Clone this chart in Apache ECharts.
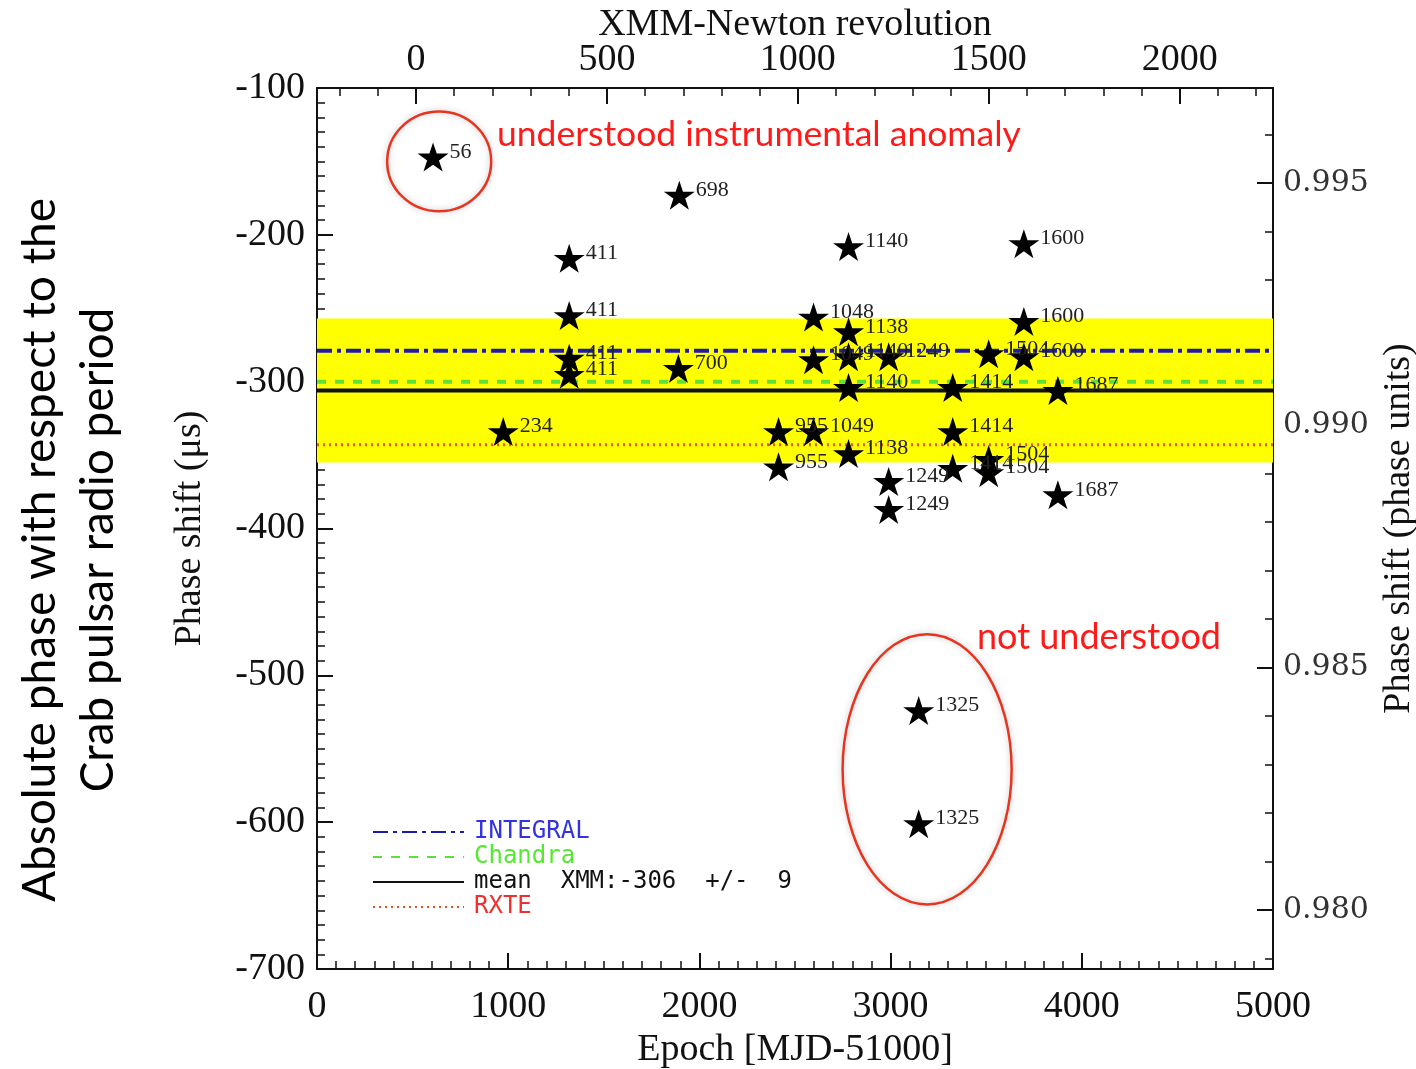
<!DOCTYPE html>
<html lang="en">
<head>
  <meta charset="UTF-8">
  <title>crab phase</title>
  <style>
    * { padding: 0; margin: 0; }
    #charts { width: 1416px; height: 1069px; background: #fff; }
  </style>
</head>
<body>
  <div id="charts"></div>
</body>
<script src="https://cdn.jsdelivr.net/npm/echarts@6/dist/echarts.min.js"></script>
<script type="text/javascript">
  // XMM points: epoch (MJD-51000), phase shift (us), revolution label
  var epoch = [607, 1895, 1319, 1319, 1319, 1319, 1890, 974, 2414, 2414, 2597, 2597, 2597,
    2780, 2780, 2780, 2780, 2780, 2990, 2990, 2990, 3147, 3147, 3325, 3325, 3325,
    3513, 3513, 3513, 3697, 3697, 3697, 3875, 3875]
  var shift = [-147, -173, -216, -255, -284, -295, -291, -334, -334, -358, -256, -285, -334,
    -208, -266, -283, -304, -349, -283, -368, -387, -524, -601, -304, -334, -359,
    -281, -353, -362, -206, -259, -283, -306, -377]
  var revolution = [56, 698, 411, 411, 411, 411, 700, 234, 955, 955, 1048, 1049, 1049,
    1140, 1138, 1140, 1140, 1138, 1249, 1249, 1249, 1325, 1325, 1414, 1414, 1414,
    1504, 1504, 1504, 1600, 1600, 1600, 1687, 1687]

  // reference levels (us)
  var levelNames = ['INTEGRAL', 'Chandra', 'mean  XMM:-306  +/-  9', 'RXTE']
  var levelValues = [-279, -300, -306, -343]
  var xmmBand = [-257, -355]

  // axis ranges and ticks
  var epochRange = [0, 5000]
  var shiftRange = [-700, -100]
  var revRange = [-259, 2244]
  var revTicks = [0, 500, 1000, 1500, 2000]
  var phaseRange = [0.97878, 0.99696]
  var phaseTicks = [0.980, 0.985, 0.990, 0.995]

  // annotation ellipses (data units)
  var ringX = [639, 3191]
  var ringY = [-150, -564]
  var ringRx = [272, 442]
  var ringRy = [34, 92]

  var revMinor = []
  for (var r = -200; r <= 2200; r += 100) if (r % 500 !== 0) revMinor.push(r)
  var phaseMinor = []
  for (var k = 979; k <= 996; k++) if (k % 5 !== 0) phaseMinor.push(k / 1000)

  var serif = 'Liberation Serif'
  var ink = '#111'
  var star = 'path://M50,0 L61.23,34.55 L97.55,34.55 L68.16,55.9 L79.39,90.45 L50,69.1 L20.61,90.45 L31.84,55.9 L2.45,34.55 L38.77,34.55 Z'

  var levelStyles = [
    { color: '#1c1ca8', width: 4, type: [15, 5, 4, 5] },
    { color: '#5ee03a', width: 4, type: [9, 9] },
    { color: '#111111', width: 4, type: 'solid' },
    { color: '#e8541c', width: 3, type: [2, 4] }
  ]
  var legendColors = ['#3232e0', '#55e830', '#111111', '#ee3030']

  var myChart = echarts.init(document.getElementById('charts'))

  function plain(v) { return String(v) }

  function axisBase() {
    return {
      type: 'value',
      splitLine: { show: false },
      axisLine: { show: true, onZero: false, lineStyle: { color: ink, width: 2 } },
      axisTick: { inside: true, length: 16, lineStyle: { color: ink, width: 2 } },
      nameTextStyle: { fontFamily: serif, fontSize: 38, color: ink },
      axisLabel: { fontFamily: serif, fontSize: 38, color: ink, formatter: plain }
    }
  }

  function setOption() {
    var points = epoch.map(function (x, i) { return [x, shift[i]] })

    var xBottom = axisBase()
    Object.assign(xBottom, {
      position: 'bottom', min: epochRange[0], max: epochRange[1], interval: 1000,
      name: 'Epoch [MJD-51000]', nameLocation: 'middle', nameGap: 62,
      minorTick: { show: true, splitNumber: 10, length: 8, lineStyle: { color: ink, width: 1.5 } }
    })
    xBottom.axisLabel.margin = 19

    var xTop = axisBase()
    Object.assign(xTop, {
      position: 'top', min: revRange[0], max: revRange[1],
      name: 'XMM-Newton revolution', nameLocation: 'middle', nameGap: 44, nameMoveOverlap: false
    })
    xTop.axisTick.customValues = revTicks
    xTop.axisLabel.customValues = revTicks
    xTop.axisLabel.margin = 9

    var xTopMinor = axisBase()
    Object.assign(xTopMinor, { position: 'top', min: revRange[0], max: revRange[1] })
    xTopMinor.axisLine.show = false
    xTopMinor.axisTick = { inside: true, length: 8, customValues: revMinor, lineStyle: { color: ink, width: 1.5 } }
    xTopMinor.axisLabel = { show: false }

    var yLeft = axisBase()
    Object.assign(yLeft, {
      position: 'left', min: shiftRange[0], max: shiftRange[1], interval: 100,
      name: 'Phase shift (μs)', nameLocation: 'middle', nameRotate: 90, nameGap: 108,
      minorTick: { show: true, splitNumber: 10, length: 8, lineStyle: { color: ink, width: 1.5 } }
    })
    yLeft.axisLabel.margin = 12

    var yRight = axisBase()
    Object.assign(yRight, {
      position: 'right', min: phaseRange[0], max: phaseRange[1],
      name: 'Phase shift (phase units)', nameLocation: 'middle', nameRotate: 90, nameGap: 104
    })
    yRight.axisTick.customValues = phaseTicks
    yRight.axisLabel = {
      customValues: phaseTicks, margin: 10, fontFamily: 'DejaVu Serif', fontSize: 30, color: '#333',
      formatter: function (v) { return v.toFixed(3) }
    }

    var yRightMinor = axisBase()
    Object.assign(yRightMinor, { position: 'right', min: phaseRange[0], max: phaseRange[1] })
    yRightMinor.axisLine.show = false
    yRightMinor.axisTick = { inside: true, length: 8, customValues: phaseMinor, lineStyle: { color: ink, width: 1.5 } }
    yRightMinor.axisLabel = { show: false }

    var series = [{
      name: 'band',
      type: 'line',
      data: [],
      silent: true,
      markArea: {
        silent: true,
        itemStyle: { color: '#ffff00' },
        data: [[{ yAxis: xmmBand[0] }, { yAxis: xmmBand[1] }]]
      }
    }]
    levelNames.forEach(function (name, i) {
      series.push({
        name: name,
        type: 'line',
        symbol: 'none',
        silent: true,
        z: 3,
        lineStyle: levelStyles[i],
        itemStyle: { color: levelStyles[i].color },
        data: [[epochRange[0], levelValues[i]], [epochRange[1], levelValues[i]]]
      })
    })
    series.push({
      name: 'XMM',
      type: 'scatter',
      symbol: star,
      symbolSize: [31, 29],
      z: 5,
      itemStyle: { color: '#000', opacity: 1 },
      label: {
        show: true,
        position: 'right',
        distance: 1,
        offset: [0, -5],
        fontFamily: serif,
        fontSize: 22,
        color: '#222',
        formatter: function (p) { return revolution[p.dataIndex] }
      },
      data: points
    })
    series.push({
      name: 'rings',
      type: 'custom',
      silent: true,
      clip: false,
      z: 6,
      renderItem: function (params, api) {
        var c = api.coord([api.value(0), api.value(1)])
        var s = api.size([api.value(2), api.value(3)])
        return {
          type: 'ellipse',
          shape: { cx: c[0], cy: c[1], rx: s[0], ry: s[1] },
          style: { fill: 'none', stroke: '#e8341e', lineWidth: 2.5, shadowBlur: 6, shadowColor: 'rgba(0,0,0,0.25)' }
        }
      },
      data: ringX.map(function (x, i) { return [x, ringY[i], ringRx[i], ringRy[i]] })
    })

    var option = {
      backgroundColor: '#fff',
      animation: false,
      grid: { left: 317, right: 143, top: 88, bottom: 100, show: false, containLabel: false, outerBoundsMode: 'none' },
      xAxis: [xBottom, xTop, xTopMinor],
      yAxis: [yLeft, yRight, yRightMinor],
      legend: {
        orient: 'vertical',
        left: 367,
        top: 815,
        itemWidth: 91,
        itemHeight: 12,
        itemGap: 1,
        selectedMode: false,
        lineStyle: { width: 2 },
        itemStyle: { color: 'rgba(0,0,0,0)', borderColor: 'rgba(0,0,0,0)', borderWidth: 0 },
        textStyle: { fontFamily: 'DejaVu Sans Mono', fontSize: 24, lineHeight: 23, padding: [0, 0, 0, 5] },
        data: levelNames.map(function (n, i) { return { name: n, textStyle: { color: legendColors[i] } } })
      },
      graphic: [
        {
          type: 'text', x: 69, y: 550, rotation: Math.PI / 2,
          style: {
            text: 'Absolute phase with respect to the\nCrab pulsar radio period',
            fontFamily: 'Lato', fontSize: 46, lineHeight: 58, fill: '#000',
            align: 'center', verticalAlign: 'middle'
          }
        },
        {
          type: 'text', x: 497, y: 135,
          style: { text: 'understood instrumental anomaly', fontFamily: 'Lato', fontSize: 35.5, fill: '#ff1a1a', verticalAlign: 'middle' }
        },
        {
          type: 'text', x: 977, y: 637,
          style: { text: 'not understood', fontFamily: 'Lato', fontSize: 36, fill: '#ff1a1a', verticalAlign: 'middle' }
        }
      ],
      series: series
    }
    myChart.setOption(option)
  }
  setOption()
</script>
</html>
